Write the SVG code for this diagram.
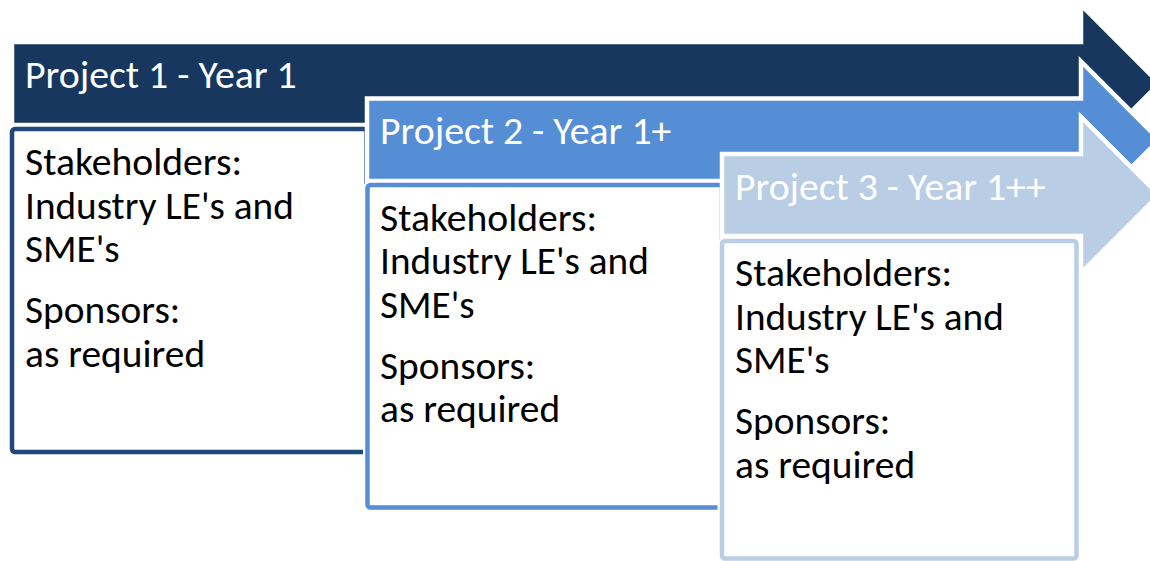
<svg xmlns="http://www.w3.org/2000/svg" width="1150" height="561" viewBox="0 0 1150 561">
  <style>
    .arrow { stroke: #ffffff; stroke-width: 4.5; stroke-linejoin: miter; }
    .a1 { fill: #17375e; }
    .a2 { fill: #558ed5; }
    .a3 { fill: #b9cde5; }
    .halo { fill: #ffffff; stroke: #ffffff; stroke-width: 9; }
    .frame { fill: #ffffff; stroke-width: 4.5; }
    .f1 { stroke: #1f497d; }
    .f2 { stroke: #558ed5; }
    .f3 { stroke: #b9cde5; }
    text { font-family: Calibri, Carlito, "Open Sans", sans-serif; font-size: 39px; }
    .title { fill: #ffffff; }
    .body { fill: #000000; }
  </style>

  <!-- Project 1 -->
  <g id="project-1">
    <path class="arrow a1" d="M12,42 H1081 V5 L1159.5,83.5 L1081,162 V125 H12 Z"/>
    <text class="title" x="25" y="87.5" textLength="271.7" lengthAdjust="spacingAndGlyphs">Project 1 - Year 1</text>
    <rect class="halo" x="12" y="129" width="354.5" height="323" rx="3"/>
    <rect class="frame f1" x="12" y="129" width="354.5" height="323" rx="3"/>
    <g class="body">
      <text x="25" y="175" textLength="217.1" lengthAdjust="spacingAndGlyphs">Stakeholders:</text>
      <text x="25" y="218.5" textLength="268.8" lengthAdjust="spacingAndGlyphs">Industry LE's and</text>
      <text x="25" y="262" textLength="94.6" lengthAdjust="spacingAndGlyphs">SME's</text>
      <text x="25" y="323" textLength="155.3" lengthAdjust="spacingAndGlyphs">Sponsors:</text>
      <text x="25" y="366.5" textLength="180.1" lengthAdjust="spacingAndGlyphs">as required</text>
    </g>
  </g>

  <!-- Project 2 -->
  <g id="project-2">
    <path class="arrow a2" d="M367,98.5 H1081 V61.5 L1159.25,139.75 L1081,218 V181 H367 Z"/>
    <text class="title" x="380" y="143.5" textLength="291.3" lengthAdjust="spacingAndGlyphs">Project 2 - Year 1+</text>
    <rect class="halo" x="367.5" y="185" width="354.5" height="322.5" rx="3"/>
    <rect class="frame f2" x="367.5" y="185" width="354.5" height="322.5" rx="3"/>
    <g class="body">
      <text x="380" y="230.5" textLength="217.1" lengthAdjust="spacingAndGlyphs">Stakeholders:</text>
      <text x="380" y="274" textLength="268.8" lengthAdjust="spacingAndGlyphs">Industry LE's and</text>
      <text x="380" y="317.5" textLength="94.6" lengthAdjust="spacingAndGlyphs">SME's</text>
      <text x="380" y="378.5" textLength="155.3" lengthAdjust="spacingAndGlyphs">Sponsors:</text>
      <text x="380" y="422" textLength="180.1" lengthAdjust="spacingAndGlyphs">as required</text>
    </g>
  </g>

  <!-- Project 3 -->
  <g id="project-3">
    <path class="arrow a3" d="M722,154 H1081 V117 L1159,195 L1081,273 V236 H722 Z"/>
    <text class="title" x="735" y="199.5" textLength="310.8" lengthAdjust="spacingAndGlyphs">Project 3 - Year 1++</text>
    <rect class="halo" x="722" y="241" width="354.5" height="317.5" rx="3"/>
    <rect class="frame f3" x="722" y="241" width="354.5" height="317.5" rx="3"/>
    <g class="body">
      <text x="735" y="286" textLength="217.1" lengthAdjust="spacingAndGlyphs">Stakeholders:</text>
      <text x="735" y="329.5" textLength="268.8" lengthAdjust="spacingAndGlyphs">Industry LE's and</text>
      <text x="735" y="373" textLength="94.6" lengthAdjust="spacingAndGlyphs">SME's</text>
      <text x="735" y="434" textLength="155.3" lengthAdjust="spacingAndGlyphs">Sponsors:</text>
      <text x="735" y="477.5" textLength="180.1" lengthAdjust="spacingAndGlyphs">as required</text>
    </g>
  </g>
</svg>
